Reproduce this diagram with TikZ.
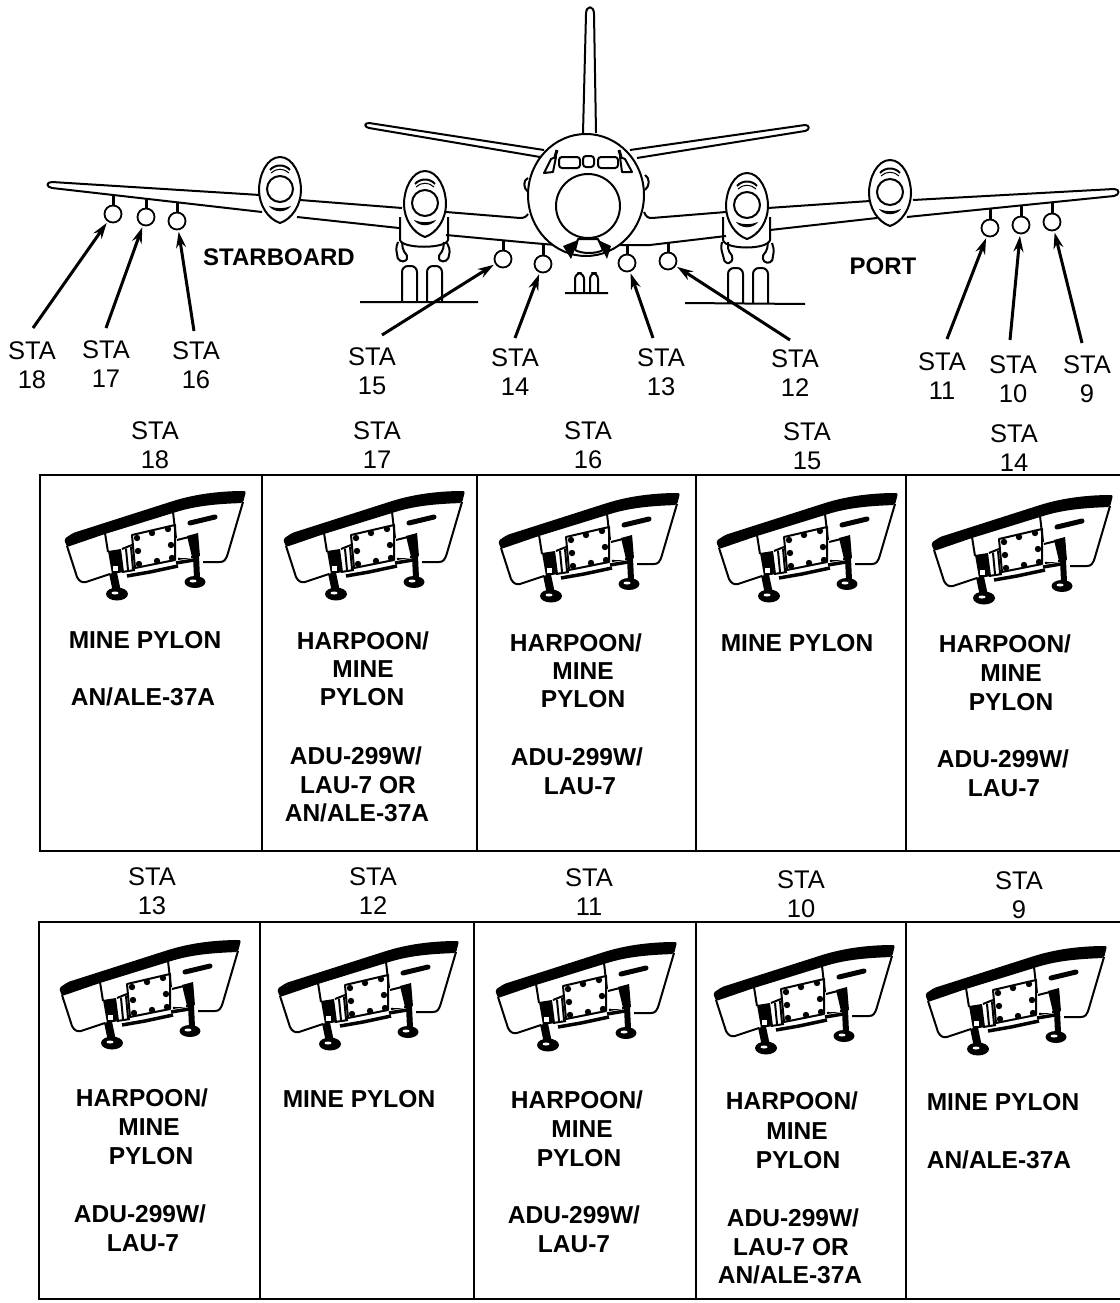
\documentclass[tikz,border=0pt]{standalone}
\usepackage{fontspec}
\setmainfont{Liberation Sans}
\usetikzlibrary{arrows.meta}
\tikzset{
  ln/.style={line width=2pt, line join=round},
  stub/.style={line width=3pt},
  stacirc/.style={circle, draw, line width=1.8pt, minimum size=17pt, inner sep=0pt},
  staarrow/.style={-{Stealth[length=16pt,width=10pt]}, line width=3pt, shorten >=1.5pt},
  stalbl/.style={align=center, inner sep=0pt, font=\fontsize{25.5}{29}\selectfont},
  boldlbl/.style={inner sep=0pt, font=\fontsize{24.5}{26}\selectfont\bfseries},
  sidelbl/.style={inner sep=0pt, font=\fontsize{24}{26}\selectfont\bfseries},
  cell/.style={line width=2.5pt},
  pylon/.pic={
    % leading edge band
    \fill[rounded corners=2pt] (64,539) -- (73,533) -- (170,502) .. controls (195,494) and (220,491) .. (246,491) -- (243,503)
      .. controls (215,504) and (195,506) .. (173,513) -- (105,534) -- (67,547) -- cycle;
    % skin
    \draw[ln] (67,546) -- (77,577) .. controls (79,581) and (82,583) .. (86,582) -- (110,574);
    \draw[ln] (243,502) -- (228,553) .. controls (226,560) and (224,562) .. (220,562) -- (203,562);
    \draw[ln] (105,533) -- (108,552) (173,512) -- (176,538);
    \draw[line width=5pt, line cap=round] (190,523) -- (215,517);
    % plate
    \draw[ln] (132,535) -- (175,525) -- (175,560) -- (135,568) -- cycle;
    \foreach \hx/\hy in {137/538,152/533,168/529,138/551,171/545,139/564,157/561,172/558}
      \fill (\hx,\hy) circle (3.2);
    % left mechanism
    \fill (108,551) -- (121,549) -- (124,572) -- (112,574) -- cycle;
    \fill[white] (113,566) rectangle (118,571);
    \draw[ln] (122,549) -- (132,545) (126,549) -- (128,570) (131,547) -- (133,569) (122,572) -- (135,570);
    \draw[line width=3.5pt] (127,576) -- (150,572) -- (178,566);
    \draw[line width=8pt] (113,573) -- (117,592);
    \fill (117,594) ellipse [x radius=11, y radius=6.5];
    \fill[white] (115,593) ellipse [x radius=3.5, y radius=1.5];
    % right mechanism
    \draw[ln] (177,540) -- (197,535) -- (198,556) -- (178,559);
    \fill (187,536) -- (198,533) -- (200,556) -- (192,557) -- cycle;
    \fill[white] (180,558) rectangle (191,553);
    \draw[line width=6pt] (196,556) -- (197,578);
    \fill (195,582) ellipse [x radius=10.5, y radius=6];
    \fill[white] (193,581) ellipse [x radius=3.5, y radius=1.5];
    \draw[line width=3.5pt] (176,563) -- (194,560);
  },
  eng/.pic={
    \draw[ln, fill=white] (0,-33) .. controls (13,-33) and (21,-15) .. (21,0) .. controls (21,15) and (12,29) .. (0,33)
      .. controls (-12,29) and (-21,15) .. (-21,0) .. controls (-21,-15) and (-13,-33) .. (0,-33) -- cycle;
    \draw[ln] (0,-1) circle (13);
    \draw[ln] (-10,-20) .. controls (-5,-26) and (5,-26) .. (10,-20);
    \draw[line width=1pt] (-9,-17) .. controls (-4,-22) and (4,-22) .. (9,-17);
    \fill (-11,16) .. controls (-4,19) and (4,19) .. (11,16) .. controls (6,23) and (-6,23) .. (-11,16) -- cycle;
  },
}
\begin{document}
\begin{tikzpicture}[x=1pt, y=-1pt]
  \useasboundingbox (0,0) rectangle (1119,1303);

  % tail
  \draw[ln] (583,133) -- (586,14) .. controls (586,5) and (594,5) .. (594,14) -- (596,133);
  \draw[ln] (544,150) -- (369,123) .. controls (364,123) and (364,127) .. (369,128) -- (540,157);
  \draw[ln] (630,150) -- (805,125) .. controls (810,125) and (810,130) .. (805,131) -- (637,158);

  % wings
  \draw[ln] (260,195) -- (52,182) .. controls (46,182) and (46,187) .. (52,188) -- (262,212);
  \draw[ln] (300,200) -- (402,208) (297,217) -- (399,228);
  \draw[ln] (446,212) -- (520,218) .. controls (524,218) and (526,217) .. (528,214);
  \draw[ln] (446,235) -- (532,243) -- (556,245);
  \draw[ln] (913,200) -- (1114,189) .. controls (1120,189) and (1120,195) .. (1114,196) -- (907,217);
  \draw[ln] (768,208) -- (870,201) (770,230) -- (877,218);
  \draw[ln] (644,212) .. controls (646,217) and (648,218) .. (652,218) -- (726,212);
  \draw[ln] (620,245) -- (650,245) -- (726,236);

  % fuselage
  \draw[ln, fill=white] (528,178) .. controls (523,180) and (523,188) .. (528,192) (645,175) .. controls (650,178) and (650,186) .. (645,190);
  \draw[ln, fill=white] (586,195) ellipse [x radius=58, y radius=61];
  \draw[ln] (588,206) circle (32);
  \draw[ln] (551,159) -- (556,157) -- (553,172) -- (544,173) -- cycle;
  \draw[ln, rounded corners=3pt] (559,157) rectangle (580,168);
  \draw[ln, rounded corners=3pt] (583,156) rectangle (594,167);
  \draw[ln, rounded corners=3pt] (598,157) rectangle (618,168);
  \draw[ln] (620,157) -- (625,159) -- (632,172) -- (622,172) -- cycle;
  \draw[line width=3pt] (557,150) -- (555,157) (619,150) -- (621,157);
  % chin
  \draw[ln] (575,250) -- (578,239) -- (598,239) -- (603,250);
  \draw[ln] (575,250) .. controls (582,254) and (596,254) .. (603,250);
  \fill (563,246) -- (578,240) -- (575,249) -- (571,259) -- cycle;
  \fill (611,246) -- (598,240) -- (602,249) -- (607,259) -- cycle;

  % engines
  \pic at (280,190) {eng};
  \pic at (890,193) {eng};
  \draw[ln] (400,217) -- (400,240) .. controls (402,249) and (446,249) .. (448,240) -- (448,217);
  \draw[ln] (723,217) -- (723,240) .. controls (725,250) and (768,250) .. (770,240) -- (770,217);
  \pic at (425,204) {eng};
  \pic at (747,206) {eng};
  % gear doors
  \draw[ln, rounded corners=2pt] (398,242) -- (396,248) -- (398,260) -- (405,262) -- (408,257) -- (403,250) -- (402,242);
  \draw[ln, rounded corners=2pt] (447,243) -- (450,250) -- (448,260) -- (441,262) -- (438,257) -- (443,250) -- (444,242);
  \draw[ln, rounded corners=2pt] (722,242) -- (721,248) -- (725,263) -- (731,263) -- (733,257) -- (728,250) -- (728,242);
  \draw[ln, rounded corners=2pt] (772,243) -- (774,250) -- (772,262) -- (765,263) -- (762,257) -- (767,250) -- (768,242);

  % wheels
  \foreach \wa/\wb/\wt/\wg in {402/417/266/302,427/442/266/302,728/743/268/303,753/768/268/303,575/584/273/293,590/598/273/293}
    \draw[ln, rounded corners=6pt] (\wa,\wg) -- (\wa,\wt) -- (\wb,\wt) -- (\wb,\wg);
  \draw[ln] (360,302) -- (478,302) (685,303) -- (805,304) (565,293) -- (608,293);

  % stations and arrows
  \foreach \n/\lx/\ly/\tx/\ty/\cx/\cy in {18/32/365/33/328/113/214, 17/106/364/106/328/146/217, 16/196/365/194/331/177/221,
      15/372/371/382/335/503/259, 14/515/372/515/338/543/264, 13/661/372/653/338/627/263, 12/795/373/790/340/668/261,
      11/942/376/947/339/990/228, 10/1013/379/1010/340/1021/225, 9/1087/379/1082/343/1052/222} {
    \node[stacirc] (st\n) at (\cx,\cy) {};
    \draw[stub] (st\n.north) -- ++(0,-10);
    \node[stalbl] (lb\n) at (\lx,\ly) {STA\\\n};
    \coordinate (tl\n) at (\tx,\ty);
    \draw[staarrow] (tl\n) -- (st\n);
  }
  \node[sidelbl] (sboard) at (279,257) {STARBOARD};
  \node[sidelbl] (port) at (883,266) {PORT};

  % cells
  \foreach \xa/\xb/\ya/\yb in {40/262/475/851, 262/477/475/851, 477/696/475/851, 696/906/475/851, 906/1125/475/851,
      39/260/922/1299, 260/474/922/1299, 474/696/922/1299, 696/906/922/1299, 906/1125/922/1299}
    \draw[cell] (\xa,\ya) rectangle (\xb,\yb);

  % cell headers
  \foreach \n/\lx/\ly [count=\i] in {18/155/445, 17/377/445, 16/588/445, 15/807/446, 14/1014/448,
      13/152/891, 12/373/891, 11/589/892, 10/801/894, 9/1019/895}
    \node[stalbl] (hd\i) at (\lx,\ly) {STA\\\n};

  % pylons
  \foreach \dx/\dy in {0/0, 219/0, 434/2, 652/2, 867/4, -5/449, 213/450, 431/451, 649/454, 861/455}
    \pic at (\dx,\dy) {pylon};

  % stores text
  \foreach \lx/\ly/\txt [count=\i] in {145/640/MINE PYLON, 143/697/{AN/ALE-37A},
      363/641/{HARPOON/}, 363/669/MINE, 362/697/PYLON, 356/756/{ADU-299W/}, 358/785/LAU-7 OR, 357/813/{AN/ALE-37A},
      576/643/{HARPOON/}, 583/671/MINE, 583/699/PYLON, 577/757/{ADU-299W/}, 580/786/LAU-7,
      797/643/MINE PYLON,
      1005/644/{HARPOON/}, 1011/673/MINE, 1011/702/PYLON, 1003/759/{ADU-299W/}, 1004/788/LAU-7,
      142/1098/{HARPOON/}, 149/1127/MINE, 151/1156/PYLON, 140/1214/{ADU-299W/}, 143/1243/LAU-7,
      359/1099/MINE PYLON,
      577/1100/{HARPOON/}, 582/1129/MINE, 579/1158/PYLON, 574/1215/{ADU-299W/}, 574/1244/LAU-7,
      792/1101/{HARPOON/}, 797/1131/MINE, 798/1160/PYLON, 793/1218/{ADU-299W/}, 791/1247/LAU-7 OR, 790/1275/{AN/ALE-37A},
      1003/1102/MINE PYLON, 999/1160/{AN/ALE-37A}}
    \node[boldlbl] (tx\i) at (\lx,\ly) {\txt};
\end{tikzpicture}
\end{document}
